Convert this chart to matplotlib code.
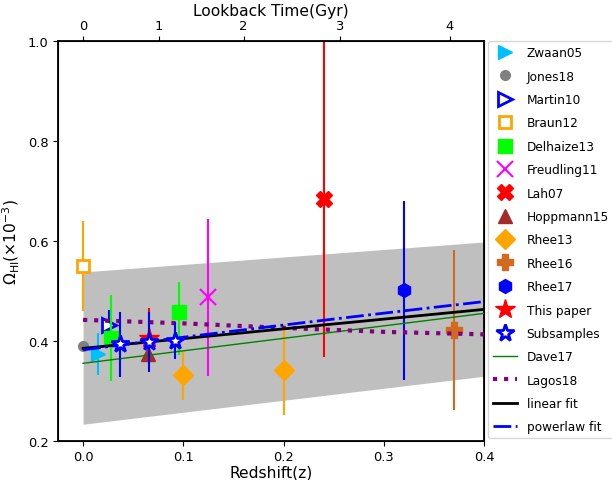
import numpy as np
import matplotlib
matplotlib.use('Agg')
import matplotlib.pyplot as plt

# OMEGA_HI MEASUREMENTS (units of 1e-3)
zwaan_z = [0.015]
zwaan_om = [0.374]
zwaan_err = [0.042]

jones_z = [0.0]
jones_om = [0.39]

martin_z = [0.026]
martin_om = [0.431]
martin_err = [0.03]

braun_z = [0.0]
braun_om = [0.55]
braun_err = [0.09]

delhaize_z = [0.028, 0.096]
delhaize_om = [0.406, 0.458]
delhaize_lo = [0.086, 0.087]
delhaize_hi = [0.086, 0.06]

freudling_z = [0.125]
freudling_om = [0.487]
freudling_err = [0.157]

lah_z = [0.24]
lah_om = [0.685]
lah_err = [0.317]

hoppmann_z = [0.065]
hoppmann_om = [0.374]

rhee13_z = [0.1, 0.2]
rhee13_om = [0.331, 0.341]
rhee13_err = [0.05, 0.09]

rhee16_z = [0.37]
rhee16_om = [0.421]
rhee16_err = [0.16]

rhee17_z = [0.32]
rhee17_om = [0.501]
rhee17_err = [0.18]

paper_z = [0.066]
paper_om = [0.405]
paper_err = [0.06]

sub_z = [0.037, 0.066, 0.092]
sub_om = [0.393, 0.398, 0.400]
sub_err = [0.065, 0.06, 0.037]

# MODELS
dave_z = [0.0, 0.1, 0.2, 0.3, 0.4]
dave_om = [0.355, 0.380, 0.405, 0.430, 0.455]

lagos_z = [0.0, 0.1, 0.2, 0.3, 0.4]
lagos_om = [0.442, 0.435, 0.426, 0.418, 0.413]

band_z = [0.0, 0.4]
band_lo = [0.233, 0.329]
band_hi = [0.538, 0.598]

# FIT PARAMETERS
lin_a, lin_b = 0.385, 0.195
pow_a, pow_alpha = 0.382, 0.67

lookback_ticks = [0, 1, 2, 3, 4]

# LOOKBACK TIME (flat LCDM, H0=70, Om=0.3)
zgrid = np.linspace(0, 0.6, 2001)
integrand = 1.0 / ((1 + zgrid) * np.sqrt(0.3 * (1 + zgrid) ** 3 + 0.7))
t_hubble = 977.8 / 70.0
tl = t_hubble * np.concatenate([[0], np.cumsum(0.5 * (integrand[1:] + integrand[:-1]) * np.diff(zgrid))])
tick_z = np.interp(lookback_ticks, tl, zgrid)

fig = plt.figure(figsize=(6.12, 4.81), dpi=100)
ax = fig.add_axes([0.0948, 0.0817, 0.6960, 0.8304])

ax.fill_between(band_z, band_lo, band_hi, color='grey', alpha=0.5, lw=0, zorder=0)

ebkw = dict(fmt='none', capsize=0, elinewidth=1.5)

# ZWAAN05
ax.errorbar(zwaan_z, zwaan_om, yerr=zwaan_err, ecolor='deepskyblue', **ebkw)
ax.plot(zwaan_z, zwaan_om, '>', color='deepskyblue', ms=10, ls='none', label='Zwaan05')
# JONES18
ax.plot(jones_z, jones_om, 'o', color='grey', ms=7, ls='none', label='Jones18')
# MARTIN10
ax.errorbar(martin_z, martin_om, yerr=martin_err, ecolor='blue', **ebkw)
ax.plot(martin_z, martin_om, '>', mfc='white', mec='blue', mew=2, ms=10, ls='none', label='Martin10')
# BRAUN12
ax.errorbar(braun_z, braun_om, yerr=braun_err, ecolor='orange', **ebkw)
ax.plot(braun_z, braun_om, 's', mfc='white', mec='orange', mew=2, ms=9, ls='none', label='Braun12')
# DELHAIZE13
ax.errorbar(delhaize_z, delhaize_om, yerr=[delhaize_lo, delhaize_hi], ecolor='lime', **ebkw)
ax.plot(delhaize_z, delhaize_om, 's', color='lime', ms=10, ls='none', label='Delhaize13')
# FREUDLING11
ax.errorbar(freudling_z, freudling_om, yerr=freudling_err, ecolor='magenta', **ebkw)
ax.plot(freudling_z, freudling_om, 'x', color='magenta', mew=1.5, ms=11, ls='none', label='Freudling11')
# LAH07
ax.errorbar(lah_z, lah_om, yerr=lah_err, ecolor='red', **ebkw)
ax.plot(lah_z, lah_om, 'X', color='red', ms=11, ls='none', label='Lah07')
# HOPPMANN15
ax.plot(hoppmann_z, hoppmann_om, '^', color='brown', ms=10, ls='none', label='Hoppmann15')
# RHEE13
ax.errorbar(rhee13_z, rhee13_om, yerr=rhee13_err, ecolor='orange', **ebkw)
ax.plot(rhee13_z, rhee13_om, 'D', color='orange', ms=10, ls='none', label='Rhee13')
# RHEE16
ax.errorbar(rhee16_z, rhee16_om, yerr=rhee16_err, ecolor='chocolate', **ebkw)
ax.plot(rhee16_z, rhee16_om, 'P', color='chocolate', ms=11, ls='none', label='Rhee16')
# RHEE17
ax.errorbar(rhee17_z, rhee17_om, yerr=rhee17_err, ecolor='blue', **ebkw)
ax.plot(rhee17_z, rhee17_om, 'h', color='blue', ms=10, ls='none', label='Rhee17')

# MODEL AND FIT LINES
zfit = np.linspace(0, 0.4, 100)
ax.plot(dave_z, dave_om, color='green', lw=1, label='Dave17', zorder=3)
ax.plot(lagos_z, lagos_om, ':', color='purple', lw=3, label='Lagos18', zorder=3)
ax.plot(zfit, lin_a + lin_b * zfit, color='black', lw=2, label='linear fit', zorder=3)
ax.plot(zfit, pow_a * (1 + zfit) ** pow_alpha, '-.', color='blue', lw=2,
        label='powerlaw fit', zorder=3)

# THIS PAPER AND SUBSAMPLES
ax.errorbar(paper_z, paper_om, yerr=paper_err, ecolor='red', zorder=4, **ebkw)
ax.plot(paper_z, paper_om, '*', color='red', ms=15, ls='none', label='This paper', zorder=4)
ax.errorbar(sub_z, sub_om, yerr=sub_err, ecolor='blue', zorder=4, **ebkw)
ax.plot(sub_z, sub_om, '*', mfc='white', mec='blue', mew=2, ms=13, ls='none',
        label='Subsamples', zorder=5)

ax.set_xlim(-0.025, 0.4)
ax.set_ylim(0.2, 1.0)
ax.set_xticks([0.0, 0.1, 0.2, 0.3, 0.4])
ax.set_yticks([0.2, 0.4, 0.6, 0.8, 1.0])
ax.tick_params(labelsize=9.4)
ax.set_xlabel('Redshift(z)', fontsize=11.2, labelpad=1)
ax.set_ylabel(r'$\Omega_{\rm HI}(\times10^{-3})$', fontsize=11.2)
for s in ax.spines.values():
    s.set_linewidth(1.3)

# TOP AXIS LOOKBACK TIME
ax2 = ax.twiny()
ax2.set_xlim(ax.get_xlim())
ax2.set_xticks(tick_z)
ax2.set_xticklabels([str(t) for t in lookback_ticks])
ax2.tick_params(labelsize=9.4)
ax2.set_xlabel('Lookback Time(Gyr)', fontsize=11.2, labelpad=2.5)

# LEGEND
handles, labels = ax.get_legend_handles_labels()
order = ['Zwaan05', 'Jones18', 'Martin10', 'Braun12', 'Delhaize13', 'Freudling11', 'Lah07',
         'Hoppmann15', 'Rhee13', 'Rhee16', 'Rhee17', 'This paper', 'Subsamples', 'Dave17',
         'Lagos18', 'linear fit', 'powerlaw fit']
hmap = dict(zip(labels, handles))
fig.legend([hmap[k] for k in order], order, loc='lower left',
           bbox_to_anchor=(488 / 612, 1 - 439.3 / 481), borderaxespad=0,
           fontsize=8.7, labelspacing=0.86, numpoints=1)

fig.savefig('out.png', dpi=100)
